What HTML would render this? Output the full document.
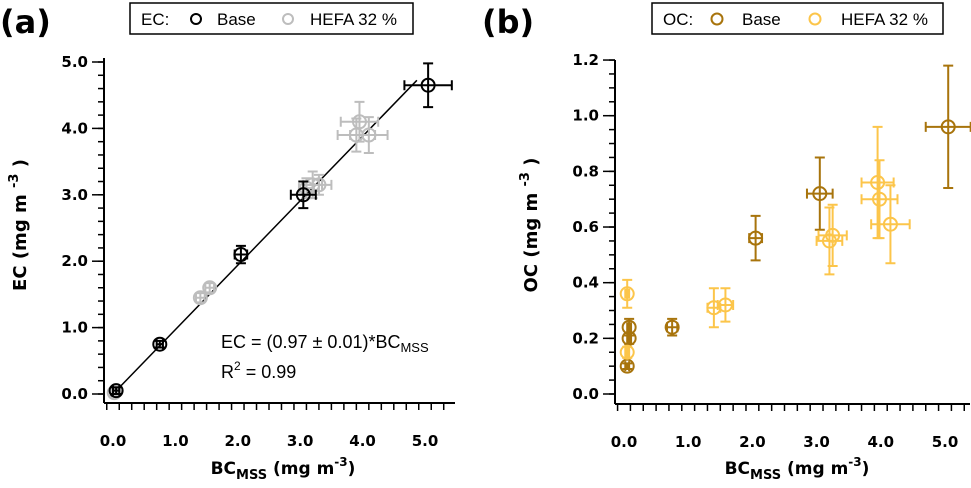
<!DOCTYPE html>
<html><head><meta charset="utf-8"><style>
body{margin:0;background:#fff;width:971px;height:488px;overflow:hidden;font-family:"Liberation Sans",sans-serif}
svg{position:absolute;left:0;top:0}
.b{font-family:"DejaVu Sans",sans-serif;font-weight:bold}
</style></head><body>
<svg id="s" width="971" height="488" xmlns="http://www.w3.org/2000/svg"></svg>
<script>
// Panel (a) data
const aBaseX=[0.05,0.75,2.05,3.05,5.05];
const aBaseY=[0.05,0.75,2.1,3.0,4.65];
const aBaseXe=[0.05,0.05,0.1,0.2,0.38];
const aBaseYe=[0.05,0.05,0.13,0.2,0.33];
const aHefaX=[0.02,1.4,1.55,3.1,3.2,3.3,3.95,3.9,4.1];
const aHefaY=[0.02,1.45,1.6,3.1,3.15,3.15,4.1,3.9,3.9];
const aHefaXe=[0.05,0.07,0.07,0.12,0.15,0.2,0.3,0.3,0.3];
const aHefaYe=[0.05,0.07,0.07,0.15,0.2,0.15,0.3,0.25,0.27];
const aTicks=[0,1,2,3,4,5];
const aTickLabels=["0.0","1.0","2.0","3.0","4.0","5.0"];
const fitSlope=0.97;
// Panel (b) data
const bBaseX=[0.05,0.08,0.08,0.75,2.05,3.05,5.05];
const bBaseY=[0.10,0.20,0.24,0.24,0.56,0.72,0.96];
const bBaseXe=[0.03,0.03,0.03,0.08,0.1,0.2,0.35];
const bBaseYe=[0.01,0.02,0.03,0.03,0.08,0.13,0.22];
const bHefaX=[0.05,0.05,1.4,1.58,3.2,3.25,3.95,3.98,4.15];
const bHefaY=[0.36,0.15,0.31,0.32,0.55,0.57,0.76,0.70,0.61];
const bHefaXe=[0.03,0.03,0.1,0.12,0.2,0.22,0.25,0.28,0.3];
const bHefaYe=[0.05,0.02,0.07,0.06,0.12,0.11,0.2,0.14,0.14];
const bXTicks=[0,1,2,3,4,5];
const bXTickLabels=["0.0","1.0","2.0","3.0","4.0","5.0"];
const bYTicks=[0,0.2,0.4,0.6,0.8,1.0,1.2];
const bYTickLabels=["0.0","0.2","0.4","0.6","0.8","1.0","1.2"];

const S=document.getElementById('s');const NS="http://www.w3.org/2000/svg";
function el(t,a,txt){const e=document.createElementNS(NS,t);for(const k in a)e.setAttribute(k,a[k]);if(txt!==undefined)e.textContent=txt;S.appendChild(e);return e;}
function line(x1,y1,x2,y2,c,w){return el('line',{x1,y1,x2,y2,stroke:c,'stroke-width':w||1.5});}

const ax=v=>113+v*62.4, ay=v=>394-v*66.4;
const bx=v=>624+v*64.2, by=v=>394-v*278.3;

function axes(L,R,T,B,xf,yf,xt,xl,yt,yl,xmin,xmax,ymin,ymax,pfx){
  let e=line(L,T,L,B,'#000',2);
  e=line(L,B,R,B,'#000',2);
  for(let v=xmin;v<=xmax+1e-9;v+=0.2){const x=xf(v);const maj=Math.abs(v-Math.round(v))<1e-6;line(x,B,x,B+(maj?12:7),'#000',1.5);}
  xt.forEach((v,i)=>{const t=el('text',{x:xf(v),y:B+43,'text-anchor':'middle','font-size':15,class:'b'},xl[i]);});
  for(let v=ymin;v<=ymax+1e-9;v+=(pfx=='a'?0.2:0.05)){const y=yf(v);line(L,y,L-6,y,'#000',1.5);}
  yt.forEach((v,i)=>{const y=yf(v);line(L,y,L-12,y,'#000',1.5);const t=el('text',{x:L-16,y:y+5,'text-anchor':'end','font-size':15,class:'b'},yl[i]);});
}
axes(104,455,58,403,ax,ay,aTicks,aTickLabels,aTicks,aTickLabels,-0.1,5.4,0,5.0,'a');
axes(615,970,60,404,bx,by,bXTicks,bXTickLabels,bYTicks,bYTickLabels,-0.1,5.4,0,1.2,'b');

let f=line(ax(0),ay(0),ax(4.87),ay(4.87*fitSlope),'#000',1.5);


function points(X,Y,Xe,Ye,xf,yf,c,name){
  X.forEach((v,i)=>{const g=document.createElementNS(NS,'g');S.appendChild(g);
    
    const x=xf(v),y=yf(Y[i]),x1=xf(v-Xe[i]),x2=xf(v+Xe[i]),y1=yf(Y[i]-Ye[i]),y2=yf(Y[i]+Ye[i]);
    const p=`M${x1},${y}H${x2}M${x},${y1}V${y2}M${x1},${y-5}v10M${x2},${y-5}v10M${x-5},${y1}h10M${x-5},${y2}h10`;
    const a=document.createElementNS(NS,'path');a.setAttribute('d',p);a.setAttribute('stroke',c);a.setAttribute('stroke-width',2);a.setAttribute('fill','none');g.appendChild(a);
    const ci=document.createElementNS(NS,'circle');ci.setAttribute('cx',x);ci.setAttribute('cy',y);ci.setAttribute('r',6.5);ci.setAttribute('stroke',c);ci.setAttribute('stroke-width',2);ci.setAttribute('fill','none');g.appendChild(ci);
  });
}
points(aHefaX,aHefaY,aHefaXe,aHefaYe,ax,ay,'#bdbdbd','hefa-ec-point');
points(aBaseX,aBaseY,aBaseXe,aBaseYe,ax,ay,'#000','base-ec-point');
points(bBaseX,bBaseY,bBaseXe,bBaseYe,bx,by,'#a8740c','base-oc-point');
points(bHefaX,bHefaY,bHefaXe,bHefaYe,bx,by,'#fcc54a','hefa-oc-point');
</script>
<svg width="971" height="488" xmlns="http://www.w3.org/2000/svg" style="pointer-events:none">
<text x="0" y="33" font-size="32" class="b">(a)</text>
<text x="482" y="33" font-size="32" class="b">(b)</text>
<g>
<rect x="130" y="3" width="283" height="31" fill="#fff" stroke="#000" stroke-width="1.5"/>
<text x="141" y="25" font-size="17">EC:</text>
<circle cx="196" cy="19" r="5" fill="none" stroke="#000" stroke-width="2"/>
<text x="217" y="25" font-size="17">Base</text>
<circle cx="288" cy="19" r="5" fill="none" stroke="#bdbdbd" stroke-width="2"/>
<text x="310" y="25" font-size="17">HEFA 32 %</text>
</g>
<g>
<rect x="652" y="3" width="291" height="31" fill="#fff" stroke="#000" stroke-width="1.5"/>
<text x="663" y="25" font-size="17">OC:</text>
<circle cx="717" cy="19" r="5.5" fill="none" stroke="#a8740c" stroke-width="2"/>
<text x="742" y="25" font-size="17">Base</text>
<circle cx="815" cy="19" r="5.5" fill="none" stroke="#fcc54a" stroke-width="2"/>
<text x="841" y="25" font-size="17">HEFA 32 %</text>
</g>
<text x="221" y="348" font-size="18">EC = (0.97 ± 0.01)*BC<tspan font-size="13" dy="4">MSS</tspan></text>
<text x="221" y="378" font-size="18">R<tspan font-size="12" dy="-8">2</tspan><tspan dy="8"> = 0.99</tspan></text>
<text x="283" y="474" text-anchor="middle" font-size="17" class="b">BC<tspan font-size="13" dy="5">MSS</tspan><tspan dy="-5"> (mg m</tspan><tspan font-size="12" dy="-8">-3</tspan><tspan dy="8">)</tspan></text>
<text x="797" y="474" text-anchor="middle" font-size="17" class="b">BC<tspan font-size="13" dy="5">MSS</tspan><tspan dy="-5"> (mg m</tspan><tspan font-size="12" dy="-8">-3</tspan><tspan dy="8">)</tspan></text>
<text transform="translate(26,225) rotate(-90)" text-anchor="middle" font-size="18" class="b">EC (mg m <tspan font-size="13" dy="-8">-3</tspan><tspan dy="8"> )</tspan></text>
<text transform="translate(537,225) rotate(-90)" text-anchor="middle" font-size="18" class="b">OC (mg m <tspan font-size="13" dy="-8">-3</tspan><tspan dy="8"> )</tspan></text>
</svg>
</body></html>
